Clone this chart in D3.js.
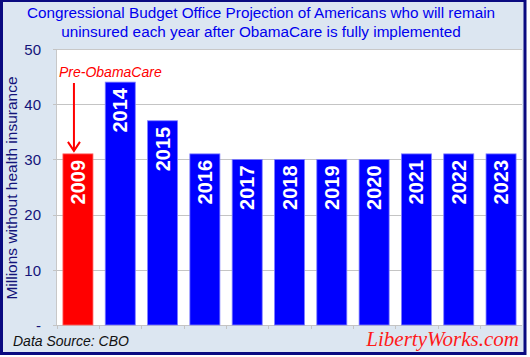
<!DOCTYPE html>
<html><head><meta charset="utf-8">
<script src="https://cdn.jsdelivr.net/npm/d3@7"></script>
<style>body{margin:0;background:#fff}svg{display:block}</style>
</head><body>
<svg id="c" width="530" height="357"></svg>
<script>
const years = ["2009","2014","2015","2016","2017","2018","2019","2020","2021","2022","2023"];
const uninsured = [31,44,37,31,30,30,30,30,31,31,31];
const yTicks = [0,10,20,30,40,50];
const titleLines = ["Congressional Budget Office Projection of Americans who will remain","uninsured each year after ObamaCare is fully implemented"];

const svg = d3.select("#c");
const m={l:57,t:49,r:522,b:325};

// background & frame
svg.append("rect").attr("x",1.5).attr("y",0.5).attr("width",523.5).attr("height",353).attr("fill","#dce6f1")
  .attr("stroke","#0a0a80").attr("stroke-width",3);

const x=d3.scaleBand().domain(years).range([m.l,m.r]).paddingInner(0.29).paddingOuter(0.14);
const y=d3.scaleLinear().domain([0,50]).range([m.b,m.t]);

svg.append("rect").attr("x",m.l).attr("y",m.t).attr("width",m.r-m.l).attr("height",m.b-m.t).attr("fill","#fff");
svg.append("path").attr("d",`M${m.r},${m.t+0.5}H${m.l-0.5}V${m.b}`).attr("fill","none").attr("stroke","#c8c8c8");

// grid
svg.append("g").selectAll("line").data(yTicks.filter(d=>d>0&&d<50)).join("line")
  .attr("x1",m.l-4).attr("x2",m.r).attr("y1",d=>Math.round(y(d))+0.5).attr("y2",d=>Math.round(y(d))+0.5)
  .attr("stroke","#c4c4c4").attr("stroke-width",1);
svg.append("line").attr("x1",m.l-4).attr("x2",m.l).attr("y1",m.t+0.5).attr("y2",m.t+0.5).attr("stroke","#c4c4c4");

// y axis labels
const yAxis=d3.axisLeft(y).tickValues(yTicks).tickSize(0).tickPadding(0).tickFormat(d=>d===0?"-":d);
const ga=svg.append("g").attr("transform",`translate(${m.l-16},0)`).call(yAxis);
ga.select(".domain").remove();
ga.selectAll("text").attr("font-family","Arial, Liberation Sans, sans-serif").attr("font-size",15).attr("fill","#14147a").attr("dy","0.35em");

// x axis baseline & ticks
svg.append("line").attr("x1",m.l-4).attr("x2",m.r).attr("y1",m.b+0.5).attr("y2",m.b+0.5).attr("stroke","#c4c4c4");
const step=x.step();
const bounds=years.map(d=>x(d)-(step-x.bandwidth())/2);
svg.append("g").selectAll("line").data(bounds).join("line")
  .attr("x1",d=>Math.round(d)+0.5).attr("x2",d=>Math.round(d)+0.5).attr("y1",m.b).attr("y2",m.b+4).attr("stroke","#c4c4c4");

// bars
svg.append("g").selectAll("rect").data(years).join("rect")
  .attr("x",d=>x(d)).attr("width",x.bandwidth())
  .attr("y",(d,i)=>y(uninsured[i])).attr("height",(d,i)=>y(0)-y(uninsured[i]))
  .attr("fill",(d,i)=>i===0?"#ff0000":"#0000ff")
  .attr("stroke",(d,i)=>i===0?"#ff6666":"#8080ff").attr("stroke-width",0.8);

// bar labels
svg.append("g").selectAll("text").data(years).join("text")
  .attr("transform",(d,i)=>`translate(${x(d)+x.bandwidth()/2+7},${y(uninsured[i])+6}) rotate(-90)`)
  .attr("text-anchor","end").attr("font-family","Arial, Liberation Sans, sans-serif")
  .attr("font-weight","bold").attr("font-size",20).attr("fill","#fff").text(d=>d);

// title
svg.append("g").selectAll("text").data(titleLines).join("text")
  .attr("x",261).attr("y",(d,i)=>18+i*19).attr("text-anchor","middle")
  .attr("font-family","Arial, Liberation Sans, sans-serif").attr("font-size",15.3).attr("fill","#0000ee").text(d=>d);

// y title
svg.append("text").attr("transform",`translate(17,188) rotate(-90)`).attr("text-anchor","middle")
  .attr("font-family","Arial, Liberation Sans, sans-serif").attr("font-size",15.5).attr("fill","#14147a")
  .text("Millions without health insurance");

// annotation
svg.append("text").attr("x",59).attr("y",77).attr("font-family","Arial, Liberation Sans, sans-serif")
  .attr("font-style","italic").attr("font-size",14).attr("fill","#ff0000").text("Pre-ObamaCare");
const ax=x(years[0])+x.bandwidth()/2-4;
svg.append("line").attr("x1",ax).attr("x2",ax).attr("y1",83).attr("y2",y(uninsured[0])-4).attr("stroke","#ff0000").attr("stroke-width",2);
svg.append("path").attr("d",`M${ax-6},${y(uninsured[0])-12}L${ax},${y(uninsured[0])-3}L${ax+6},${y(uninsured[0])-12}`)
  .attr("fill","none").attr("stroke","#ff0000").attr("stroke-width",2);

// footer
svg.append("text").attr("x",13).attr("y",346).attr("font-family","Arial, Liberation Sans, sans-serif")
  .attr("font-style","italic").attr("font-size",14).attr("fill","#111").text("Data Source: CBO");
svg.append("text").attr("x",519).attr("y",346).attr("text-anchor","end").attr("font-family","Liberation Serif, DejaVu Serif, serif")
  .attr("font-style","italic").attr("font-size",21).attr("fill","#ff1a1a").text("LibertyWorks.com");
</script>
</body></html>
